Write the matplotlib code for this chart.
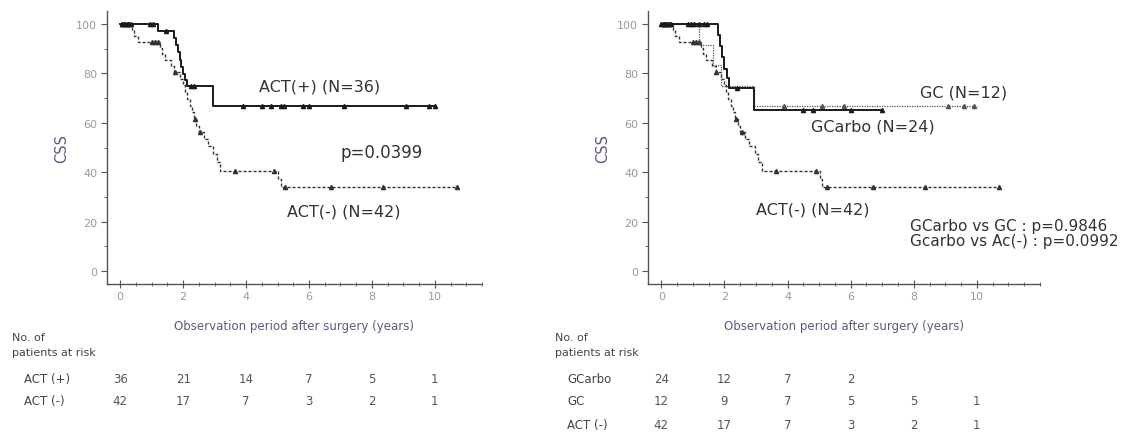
import matplotlib
matplotlib.use("Agg")
import matplotlib.pyplot as plt
from matplotlib.ticker import MultipleLocator, FixedLocator
from matplotlib.transforms import blended_transform_factory

plt.rcParams["font.family"] = ["DejaVu Sans"]

# ---- curves (time in years, CSS in %) ----
ACT_POS_T = [0, 1.2, 1.72, 1.78, 1.84, 1.89, 1.94, 1.98, 2.05, 2.12, 2.95]
ACT_POS_S = [100, 97.2, 94.3, 91.4, 88.5, 85.6, 82.6, 79.6, 77.5, 75.0, 66.7]
ACT_POS_END = 10.0
ACT_POS_CENS = [0.05, 0.15, 0.25, 0.35, 0.95, 1.05, 1.45, 2.25, 2.35,
                3.9, 4.5, 4.8, 5.1, 5.2, 5.8, 6.0, 7.1, 9.1, 9.8, 10.0]

ACT_NEG_T = [0, 0.38, 0.45, 0.55, 1.27, 1.33, 1.42, 1.6, 1.72, 1.9, 1.98,
             2.05, 2.13, 2.21, 2.27, 2.34, 2.42, 2.5, 2.65, 2.79, 2.96,
             3.07, 3.18, 5.02, 5.1]
ACT_NEG_S = [100, 97.6, 95.2, 92.9, 90.4, 88.0, 85.6, 83.1, 80.7, 77.9, 75.2,
             72.5, 69.8, 67.0, 64.3, 61.5, 58.8, 56.1, 53.3, 50.6, 47.4,
             44.0, 40.6, 37.2, 33.8]
ACT_NEG_END = 10.7
ACT_NEG_CENS = [0.05, 0.12, 0.2, 0.28, 1.0, 1.1, 1.2, 1.75, 2.38, 2.55,
                3.65, 4.9, 5.25, 6.7, 8.35, 10.7]

GCARBO_T = [0, 1.8, 1.85, 1.92, 2.0, 2.08, 2.15, 2.95]
GCARBO_S = [100, 95.5, 91.0, 86.5, 82.0, 78.0, 74.0, 65.2]
GCARBO_END = 7.0
GCARBO_CENS = [0.0, 0.08, 0.15, 0.22, 0.3, 0.85, 0.95, 1.05, 1.2, 1.35,
               1.45, 2.4, 4.5, 4.8, 6.0, 7.0]

GC_T = [0, 1.2, 1.65, 1.9, 2.95]
GC_S = [100, 91.7, 83.3, 75.0, 66.7]
GC_END = 10.0
GC_CENS = [0.1, 3.9, 5.1, 5.8, 9.1, 9.6, 9.9]

# ---- numbers at risk ----
RISK_TIMES = [0, 2, 4, 6, 8, 10]
LEFT_ROWS = ["ACT (+)", "ACT (-)"]
LEFT_RISK = [[36, 21, 14, 7, 5, 1],
             [42, 17, 7, 3, 2, 1]]
RIGHT_ROWS = ["GCarbo", "GC", "ACT (-)"]
RIGHT_RISK = [[24, 12, 7, 2],
              [12, 9, 7, 5, 5, 1],
              [42, 17, 7, 3, 2, 1]]

X_TICKS = [0, 2, 4, 6, 8, 10]

W, H = 1127, 439
fig = plt.figure(figsize=(W / 100, H / 100), dpi=100)

AX_COL = "#555555"
LBL_COL = "#5a5a80"
TXT_COL = "#333333"
TAB_COL = "#444444"


def surv_at(ts, ss, t):
    val = ss[0]
    for ti, si in zip(ts, ss):
        if ti <= t:
            val = si
    return val


def km(ax, ts, ss, end, cens, **kw):
    xs = list(ts) + [end]
    ys = list(ss) + [ss[-1]]
    ax.step(xs, ys, where="post", **kw)
    cy = [surv_at(ts, ss, c) for c in cens]
    ax.plot(cens, cy, linestyle="none", marker="^", markersize=3,
            color=kw.get("color", "k"))


def style_axes(ax, xmax):
    ax.set_xlim(-0.42, xmax)
    ax.set_ylim(-5.3, 105.3)
    for s in ["top", "right"]:
        ax.spines[s].set_visible(False)
    for s in ["left", "bottom"]:
        ax.spines[s].set_color(AX_COL)
        ax.spines[s].set_linewidth(1.0)
    ax.xaxis.set_major_locator(FixedLocator(X_TICKS))
    ax.xaxis.set_minor_locator(MultipleLocator(0.5))
    ax.yaxis.set_major_locator(MultipleLocator(20))
    ax.yaxis.set_minor_locator(MultipleLocator(10))
    ax.tick_params(axis="x", which="both", direction="inout", colors=AX_COL,
                   labelcolor="#999999", labelsize=8)
    ax.tick_params(axis="x", which="major", length=6, width=0.8, pad=2)
    ax.tick_params(axis="x", which="minor", length=3, width=0.6)
    ax.tick_params(axis="y", which="both", direction="out", colors=AX_COL,
                   labelcolor="#999999", labelsize=8)
    ax.tick_params(axis="y", which="major", length=4, width=0.8, pad=3)
    ax.tick_params(axis="y", which="minor", length=2, width=0.6)
    ax.set_ylabel("CSS", color=LBL_COL, fontsize=10.5, labelpad=5)
    ax.set_xlabel("Observation period after surgery (years)", color=LBL_COL,
                  fontsize=8.5, labelpad=13)


def risk_table(ax, x0, rows, risk, row_y):
    tr = blended_transform_factory(ax.transData, fig.transFigure)
    fig.text(x0, 1 - 338 / H, "No. of", fontsize=8, color=TAB_COL,
             va="center")
    fig.text(x0, 1 - 353 / H, "patients at risk", fontsize=8,
             color=TAB_COL, va="center")
    for name, vals, yp in zip(rows, risk, row_y):
        fig.text(x0 + 12 / W, 1 - yp / H, name, fontsize=8.5,
                 color=TAB_COL, va="center")
        for t, v in zip(RISK_TIMES, vals):
            ax.text(t, 1 - yp / H, str(v), transform=tr, fontsize=8.5,
                    color="#555555", ha="center", va="center")


# ---- left panel ----
axL = fig.add_axes([107 / W, 1 - 285 / H, (482 - 107) / W, (285 - 12) / H])
km(axL, ACT_NEG_T, ACT_NEG_S, ACT_NEG_END, ACT_NEG_CENS,
   color="#333333", lw=1.0, linestyle=(0, (2.2, 1.4)))
km(axL, ACT_POS_T, ACT_POS_S, ACT_POS_END, ACT_POS_CENS,
   color="#1a1a1a", lw=1.4)
style_axes(axL, 11.5)
axL.text(4.4, 75, "ACT(+) (N=36)", fontsize=11.5, color=TXT_COL,
         va="center")
axL.text(7.0, 48, "p=0.0399", fontsize=12, color=TXT_COL, va="center")
axL.text(5.3, 24.3, "ACT(-) (N=42)", fontsize=11.5, color=TXT_COL,
         va="center")
risk_table(axL, 12 / W, LEFT_ROWS, LEFT_RISK, [380, 402])

# ---- right panel ----
axR = fig.add_axes([648 / W, 1 - 285 / H, (1040 - 648) / W, (285 - 12) / H])
km(axR, ACT_NEG_T, ACT_NEG_S, ACT_NEG_END, ACT_NEG_CENS,
   color="#333333", lw=1.0, linestyle=(0, (2.2, 1.4)))
km(axR, GC_T, GC_S, GC_END, GC_CENS,
   color="#555555", lw=0.9, linestyle=(0, (1, 1)))
km(axR, GCARBO_T, GCARBO_S, GCARBO_END, GCARBO_CENS,
   color="#1a1a1a", lw=1.4)
style_axes(axR, 12.0)
axR.text(8.2, 72.5, "GC (N=12)", fontsize=11.5, color=TXT_COL, va="center")
axR.text(4.75, 58.7, "GCarbo (N=24)", fontsize=11.5, color=TXT_COL,
         va="center")
axR.text(3.0, 25, "ACT(-) (N=42)", fontsize=11.5, color=TXT_COL,
         va="center")
fig.text(910 / W, 1 - 227 / H, "GCarbo vs GC : p=0.9846", fontsize=11,
         color=TXT_COL, va="center")
fig.text(910 / W, 1 - 242 / H, "Gcarbo vs Ac(-) : p=0.0992", fontsize=11,
         color=TXT_COL, va="center")
risk_table(axR, 555 / W, RIGHT_ROWS, RIGHT_RISK, [380, 402, 426])

fig.savefig("out.png", dpi=100)
